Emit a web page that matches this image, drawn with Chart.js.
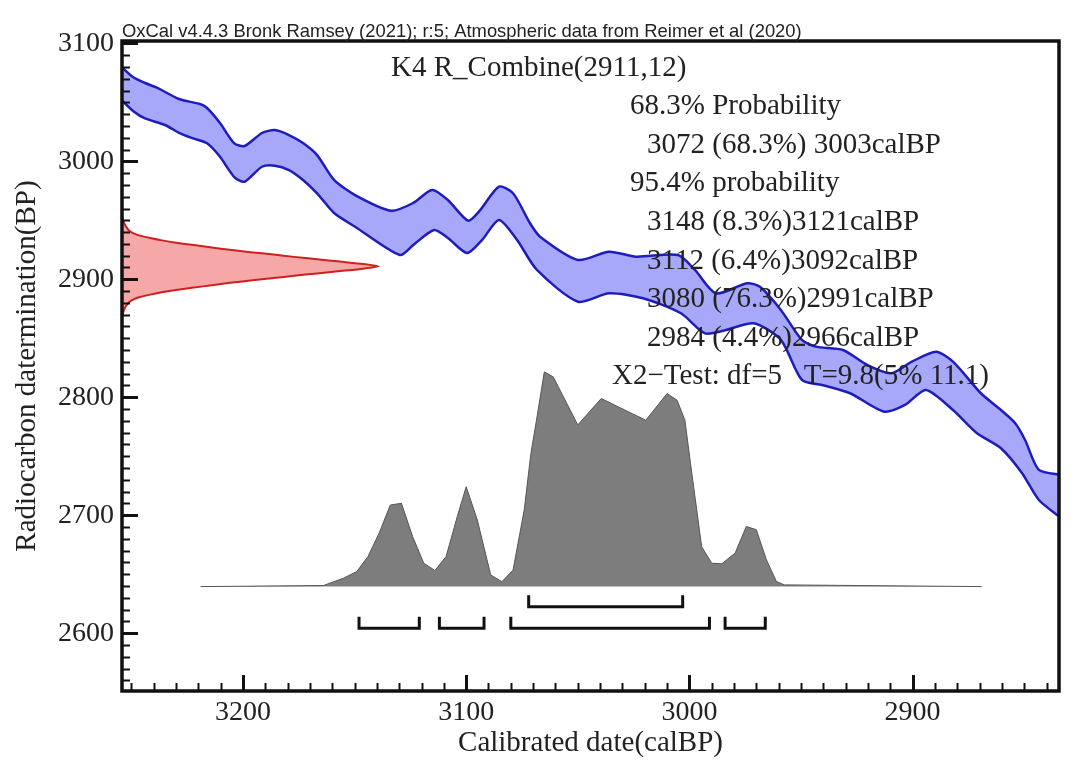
<!DOCTYPE html>
<html>
<head>
<meta charset="utf-8">
<script src="https://cdn.jsdelivr.net/npm/chart.js@4.4.1/dist/chart.umd.min.js"></script>
<style>
html, body { margin: 0; padding: 0; background: #fff; }
#wrap { width: 1080px; height: 768px; }
</style>
</head>
<body>
<div id="wrap"><canvas id="calib_chart" width="1080" height="768"></canvas></div>
<script>
// calibration curve band, upper and lower edge (calBP -> BP)
var upperYears = [3256, 3249.3, 3243.9, 3238.1, 3228.7, 3219.3, 3216.1, 3210.3, 3204.0, 3199.3, 3191.5, 3185.7, 3179.4, 3173.1, 3166.8, 3159.2, 3149.8, 3133.7, 3123.7, 3115.3, 3108.2, 3099.2, 3094.3, 3085.3, 3079.0, 3071.4, 3066.9, 3049.9, 3036.0, 3023.9, 3005.1, 2997.5, 2988.1, 2974.2, 2968.4, 2959.0, 2949.6, 2943.4, 2931.2, 2920.4, 2909.7, 2900.3, 2889.5, 2881.9, 2869.4, 2860.4, 2854.1, 2849.6, 2843.4, 2833];
var upperBP = [3083, 3071.4, 3066.4, 3062.1, 3052.8, 3048.6, 3045.2, 3032.5, 3015.5, 3013.0, 3024.0, 3026.5, 3022.3, 3015.5, 3005.3, 2984.2, 2971.4, 2958.1, 2964.7, 2975.7, 2967.2, 2949.7, 2957.3, 2978.5, 2972.9, 2947.5, 2936.1, 2916.4, 2923.4, 2919.2, 2920.6, 2907.9, 2888.1, 2896.6, 2893.7, 2874.0, 2848.6, 2842.9, 2840.1, 2827.4, 2820.3, 2830.2, 2838.6, 2830.2, 2803.4, 2789.2, 2778.2, 2763.8, 2738.4, 2734];
var lowerYears = [3256, 3248.8, 3243.9, 3234.9, 3228.7, 3222.4, 3216.1, 3210.3, 3204.0, 3199.3, 3191.5, 3185.7, 3179.4, 3173.1, 3166.8, 3159.2, 3149.8, 3129.7, 3123.7, 3114.4, 3108.2, 3099.6, 3092.9, 3085.3, 3077.2, 3068.3, 3049.9, 3036.0, 3020.8, 3003.8, 2993.0, 2983.6, 2971.1, 2959.0, 2949.6, 2940.6, 2928.0, 2912.8, 2903.4, 2894.0, 2881.9, 2871.1, 2860.4, 2851.0, 2843.4, 2833];
var lowerBP = [3055, 3042.0, 3036.4, 3030.8, 3024.2, 3019.5, 3015.3, 3003.9, 2986.9, 2982.7, 2995.4, 2996.3, 2992.6, 2984.2, 2972.9, 2956.2, 2944.6, 2920.6, 2929.1, 2941.8, 2935.0, 2922.3, 2933.3, 2950.3, 2933.3, 2907.9, 2881.0, 2888.1, 2883.9, 2871.2, 2854.2, 2857.0, 2862.7, 2848.6, 2814.7, 2810.4, 2803.4, 2787.8, 2793.5, 2806.2, 2789.2, 2769.5, 2756.8, 2735.8, 2712.9, 2697];

// radiocarbon measurement R_Combine(2911,12), relative probability
var dateBP = [2953, 2949, 2946, 2943, 2941, 2939, 2937, 2935, 2933, 2931, 2929, 2927, 2925, 2923, 2921, 2919, 2917, 2915, 2913, 2911, 2909, 2907, 2905, 2903, 2901, 2899, 2897, 2895, 2893, 2891, 2889, 2887, 2885, 2883, 2881, 2879, 2876, 2873, 2869];
var dateProb = [0.002, 0.006, 0.012, 0.021, 0.03, 0.045, 0.07, 0.11, 0.155, 0.21, 0.28, 0.35, 0.42, 0.5, 0.59, 0.67, 0.76, 0.85, 0.94, 1.0, 0.94, 0.85, 0.76, 0.67, 0.59, 0.5, 0.42, 0.35, 0.28, 0.21, 0.155, 0.11, 0.07, 0.045, 0.03, 0.021, 0.012, 0.006, 0.002];

// calibrated date distribution, relative probability
var calYears = [3219, 3164, 3155, 3149, 3144, 3139, 3134, 3129, 3124, 3119, 3114, 3109, 3104, 3100, 3095, 3089, 3084, 3079, 3074, 3071, 3068.5, 3065, 3061, 3050, 3039.5, 3025.5, 3019.5, 3010, 3005.5, 3002, 2999.5, 2994.5, 2990, 2985.5, 2979.5, 2974.5, 2970, 2965.5, 2961, 2957.5, 2869];
var calProb = [0, 0.005, 0.039, 0.07, 0.14, 0.249, 0.38, 0.388, 0.233, 0.109, 0.075, 0.14, 0.326, 0.465, 0.31, 0.054, 0.023, 0.077, 0.357, 0.62, 0.775, 1.0, 0.977, 0.753, 0.876, 0.805, 0.775, 0.899, 0.868, 0.775, 0.574, 0.186, 0.109, 0.106, 0.156, 0.28, 0.265, 0.125, 0.024, 0.008, 0];

// highest probability ranges (from, to)
var range68 = [[3072, 3003]];
var range95 = [[3148, 3121], [3112, 3092], [3080, 2991], [2984, 2966]];

var xTicks = [3200, 3100, 3000, 2900];
var yTicks = [2600, 2700, 2800, 2900, 3000, 3100];

var headerText = 'OxCal v4.4.3 Bronk Ramsey (2021); r:5; Atmospheric data from Reimer et al (2020)';
var infoLines = [
    'K4 R_Combine(2911,12)',
    '68.3% Probability',
    '3072 (68.3%) 3003calBP',
    '95.4% probability',
    '3148 (8.3%)3121calBP',
    '3112 (6.4%)3092calBP',
    '3080 (76.3%)2991calBP',
    '2984 (4.4%)2966calBP',
    'X2\u2212Test: df=5   T=9.8(5% 11.1)'
];

var X_MIN = 2834.4, X_MAX = 3254.2, Y_MIN = 2551, Y_MAX = 3102;
var RED_WIDTH = 115;      // years used for the peak of the measurement curve
var CAL_BASE = 2639.5;    // baseline of the calibrated distribution
var CAL_HEIGHT = 182;     // peak height of the calibrated distribution
var SERIF = "'Liberation Serif', 'Times New Roman', serif";

function pts(xs, ys) {
    return xs.map(function (x, i) { return {x: x, y: ys[i]}; });
}

function bracket(r, level) {
    var tick = 8.5;
    return {
        data: [{x: r[0], y: level + tick}, {x: r[0], y: level}, {x: r[1], y: level}, {x: r[1], y: level + tick}],
        borderColor: '#111',
        borderWidth: 3,
        borderCapStyle: 'square',
        fill: false,
        tension: 0
    };
}

var datasets = [
    {
        data: pts(upperYears, upperBP),
        borderColor: '#1d1dbd',
        backgroundColor: 'rgba(168, 168, 250, 1)',
        borderWidth: 2.5,
        fill: '+1',
        tension: 0.25
    },
    {
        data: pts(lowerYears, lowerBP),
        borderColor: '#1d1dbd',
        borderWidth: 2.5,
        fill: false,
        tension: 0.25
    },
    {
        data: dateBP.map(function (b, i) { return {x: X_MAX - dateProb[i] * RED_WIDTH, y: b}; }),
        borderColor: '#cf2020',
        backgroundColor: '#f6a8a8',
        borderWidth: 2,
        fill: 'shape',
        tension: 0.2
    },
    {
        data: calYears.map(function (t, i) { return {x: t, y: CAL_BASE + calProb[i] * CAL_HEIGHT}; }),
        borderColor: '#555',
        backgroundColor: '#7d7d7d',
        borderWidth: 1,
        fill: {value: CAL_BASE},
        tension: 0
    }
];
range68.forEach(function (r) { datasets.push(bracket(r, 2622.5)); });
range95.forEach(function (r) { datasets.push(bracket(r, 2604.2)); });

var framePlugin = {
    id: 'frame',
    afterDatasetsDraw: function (chart) {
        var ctx = chart.ctx, a = chart.chartArea;
        var xs = chart.scales.x, ys = chart.scales.y;
        var v, p, len;
        ctx.save();
        ctx.strokeStyle = '#111';
        for (v = 2840; v <= 3250; v += 10) {
            p = Math.round(xs.getPixelForValue(v)) + 0.5;
            len = v % 100 === 0 ? 16 : 8;
            ctx.lineWidth = v % 100 === 0 ? 3 : 2;
            ctx.beginPath();
            ctx.moveTo(p, a.bottom);
            ctx.lineTo(p, a.bottom - len);
            ctx.stroke();
        }
        for (v = 2560; v <= 3100; v += 10) {
            p = Math.round(ys.getPixelForValue(v)) + 0.5;
            len = v % 100 === 0 ? 16 : 8;
            ctx.lineWidth = v % 100 === 0 ? 3 : 2;
            ctx.beginPath();
            ctx.moveTo(a.left, p);
            ctx.lineTo(a.left + len, p);
            ctx.stroke();
        }
        ctx.lineWidth = 3.5;
        ctx.strokeRect(a.left, a.top, a.right - a.left, a.bottom - a.top);

        // header and result text
        ctx.fillStyle = '#222';
        ctx.textBaseline = 'alphabetic';
        ctx.font = "18.4px 'Liberation Sans', Arial, sans-serif";
        ctx.fillText(headerText, a.left, a.top - 4);

        ctx.font = '29px ' + SERIF;
        ctx.textBaseline = 'middle';
        var xpos = [391, 630, 647, 630, 647, 647, 647, 647, 612];
        for (var i = 0; i < infoLines.length; i++) {
            ctx.fillText(infoLines[i], xpos[i], a.top + 27 + i * 38.6);
        }
        ctx.restore();
    }
};

new Chart(document.getElementById('calib_chart').getContext('2d'), {
    type: 'line',
    data: {datasets: datasets},
    options: {
        responsive: false,
        animation: false,
        clip: 0,
        layout: {padding: {top: 41, right: 21, left: 0, bottom: 0}},
        elements: {point: {radius: 0, hoverRadius: 0}},
        plugins: {
            legend: {display: false},
            tooltip: {enabled: false},
            filler: {drawTime: 'beforeDatasetsDraw'}
        },
        scales: {
            x: {
                type: 'linear',
                reverse: true,
                min: X_MIN,
                max: X_MAX,
                afterBuildTicks: function (s) { s.ticks = xTicks.map(function (v) { return {value: v}; }); },
                afterFit: function (s) { s.height = 77; },
                grid: {display: false, drawTicks: false},
                border: {display: false},
                ticks: {
                    font: {family: SERIF, size: 28},
                    color: '#222',
                    padding: 5,
                    maxRotation: 0,
                    callback: function (v) { return String(v); }
                },
                title: {
                    display: true,
                    text: 'Calibrated date(calBP)',
                    font: {family: SERIF, size: 29},
                    color: '#222',
                    padding: {top: 0, bottom: 7}
                }
            },
            y: {
                type: 'linear',
                min: Y_MIN,
                max: Y_MAX,
                afterBuildTicks: function (s) { s.ticks = yTicks.map(function (v) { return {value: v}; }); },
                afterFit: function (s) { s.width = 122; },
                grid: {display: false, drawTicks: false},
                border: {display: false},
                ticks: {
                    font: {family: SERIF, size: 28},
                    color: '#222',
                    padding: 8,
                    callback: function (v) { return String(v); }
                },
                title: {
                    display: true,
                    text: 'Radiocarbon datermination(BP)',
                    font: {family: SERIF, size: 29},
                    color: '#222',
                    padding: {top: 10, bottom: 0}
                }
            }
        }
    },
    plugins: [framePlugin]
});
</script>
</body>
</html>
